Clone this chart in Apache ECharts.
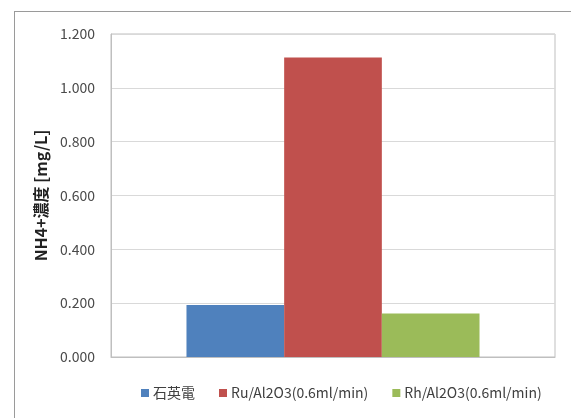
<!DOCTYPE html>
<html>
<head>
<meta charset="utf-8">
<script src="https://cdn.jsdelivr.net/npm/echarts@6/dist/echarts.min.js"></script>
<style>
  html, body { margin: 0; padding: 0; background: #fff; }
  #frame { position: absolute; left: 14px; top: 11px; width: 570px; height: 420px;
           border: 1px solid #9a9a9a; box-sizing: border-box; }
  #chart { position: absolute; left: 0; top: 0; width: 571px; height: 418px; }
</style>
</head>
<body>
<div id="frame"></div>
<div id="chart"></div>
<script>
// NH4+ concentration per catalyst
const categories = [''];
const seriesNames = ['石英電', 'Ru/Al2O3(0.6ml/min)', 'Rh/Al2O3(0.6ml/min)'];
const quartzValues = [0.193];
const ruValues = [1.113];
const rhValues = [0.162];
const colors = ['#4f81bd', '#c0504d', '#9bbb59'];

const font = '"Noto Sans CJK JP", "Liberation Sans", sans-serif';
const chart = echarts.init(document.getElementById('chart'), null, { renderer: 'canvas' });

const seriesData = [quartzValues, ruValues, rhValues];
chart.setOption({
  animation: false,
  backgroundColor: 'transparent',
  grid: { left: 111, right: 16, top: 34, bottom: 61, show: true, borderColor: '#bfbfbf', borderWidth: 1 },
  legend: {
    top: 381, left: 136, itemWidth: 8, itemHeight: 8, itemGap: 24, icon: 'rect',
    textStyle: { fontFamily: font, fontSize: 14, color: '#404040', padding: [0, 0, 0, -1] },
    data: seriesNames
  },
  xAxis: {
    type: 'category', data: categories,
    axisLine: { lineStyle: { color: '#bfbfbf' } },
    axisTick: { show: false }, axisLabel: { show: false }
  },
  yAxis: {
    type: 'value', min: 0, max: 1.2, interval: 0.2,
    name: 'NH4+濃度 [mg/L]', nameLocation: 'middle', nameGap: 61, nameRotate: 90,
    nameTextStyle: { fontFamily: font, fontSize: 16, fontWeight: 'bold', color: '#222' },
    axisLine: { show: true, lineStyle: { color: '#bfbfbf' } },
    axisTick: { show: false },
    axisLabel: { formatter: v => v.toFixed(3), fontFamily: font, fontSize: 14, color: '#4a4a4a', margin: 16 },
    splitLine: { lineStyle: { color: '#d9d9d9' } }
  },
  series: seriesNames.map((name, i) => ({
    name, type: 'bar', data: seriesData[i],
    barGap: '0%', barCategoryGap: '34%',
    itemStyle: { color: colors[i] }
  }))
});
</script>
</body>
</html>
